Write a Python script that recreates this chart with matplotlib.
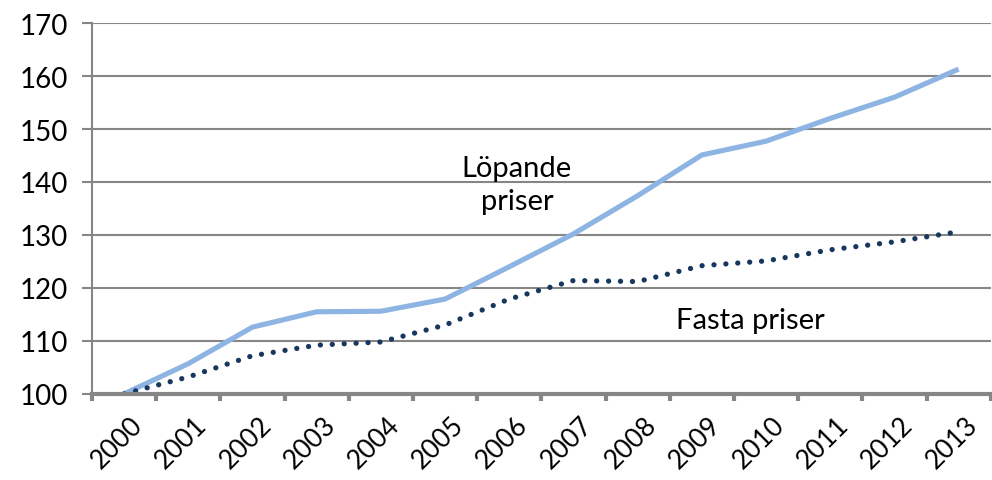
import matplotlib.pyplot as plt
import matplotlib.transforms as mtransforms
import numpy as np

years = [str(y) for y in range(2000, 2014)]
lopande = [100, 105.7, 112.6, 115.5, 115.6, 117.9, 124.0, 130.2, 137.4, 145.1, 147.7, 152.0, 156.0, 161.3]
fasta = [100, 103.2, 107.2, 109.2, 109.8, 113.0, 117.9, 121.4, 121.2, 124.2, 125.1, 127.2, 128.7, 130.6]

plt.rcParams["font.family"] = ["Lato", "DejaVu Sans"]

fig = plt.figure(figsize=(9.92, 4.81), dpi=100)
ax = fig.add_axes([0.0927, 0.179, 0.906, 0.771])

grid_col = "#868686"
x = np.arange(len(years))

ax.plot(x, lopande, color="#8DB4E2", lw=3.7, solid_capstyle="butt", zorder=3)
ax.plot(x, fasta, color="#17375E", lw=3.8, linestyle=(0, (0.01, 2.25)),
        dash_capstyle="round", zorder=3)

ax.set_xlim(-0.5, len(years) - 0.5)
ax.set_ylim(100, 170)
ax.set_yticks(np.arange(100, 171, 10))
ax.yaxis.grid(True, color=grid_col, lw=1.5)
ax.set_axisbelow(True)

# x ticks between categories, labels at centres
ax.set_xticks(np.arange(-0.5, len(years), 1))
ax.set_xticklabels([])
ax.set_xticks(x, minor=True)
ax.set_xticklabels(years, minor=True, rotation=45, ha="right", va="top",
                   rotation_mode="anchor", fontsize=19)
ax.tick_params(axis="x", which="major", length=5, width=3, color=grid_col)
ax.tick_params(axis="x", which="minor", length=0, pad=13)
ax.tick_params(axis="y", length=7, width=1.5, color=grid_col, labelsize=20, pad=10)

shift = mtransforms.ScaledTranslation(6 / 100, 0, fig.dpi_scale_trans)
for lab in ax.get_xticklabels(minor=True):
    lab.set_transform(lab.get_transform() + shift)

for side in ["top", "right"]:
    ax.spines[side].set_visible(False)
ax.spines["left"].set_color(grid_col)
ax.spines["left"].set_linewidth(1.5)
ax.spines["bottom"].set_color(grid_col)
ax.spines["bottom"].set_linewidth(3)
ax.spines["bottom"].set_zorder(4)

ax.text(6.12, 139.5, "Löpande\npriser", ha="center", va="center", fontsize=21,
        linespacing=1.35)
ax.text(9.75, 114.0, "Fasta priser", ha="center", va="center", fontsize=21)

fig.savefig("out.png", dpi=100)
